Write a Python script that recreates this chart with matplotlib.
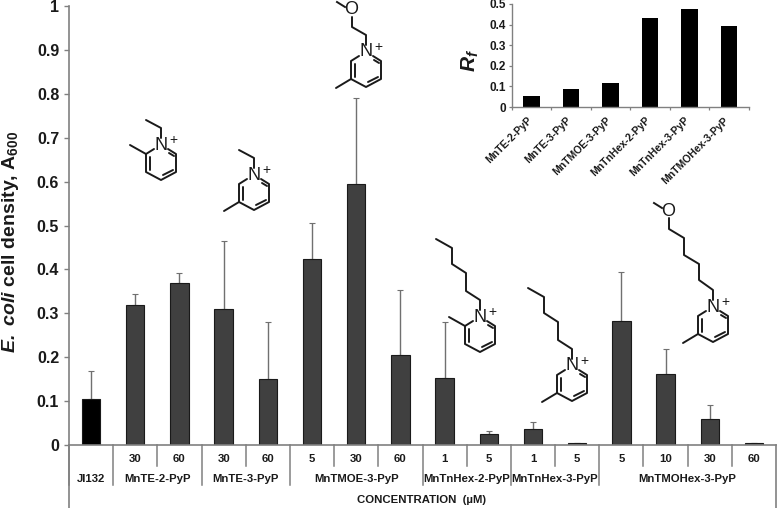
import matplotlib
matplotlib.use('Agg')
import matplotlib.pyplot as plt

plt.rcParams['font.family'] = ['Liberation Sans', 'DejaVu Sans']
plt.rcParams['mathtext.fontset'] = 'custom'
plt.rcParams['mathtext.rm'] = 'Liberation Sans:bold'
plt.rcParams['mathtext.bf'] = 'Liberation Sans:bold'
plt.rcParams['mathtext.it'] = 'Liberation Sans:italic:bold'
plt.rcParams['mathtext.bfit'] = 'Liberation Sans:italic:bold'

# Donnees du graphique principal
concentrations = ['', '30', '60', '30', '60', '5', '30', '60', '1', '5', '1', '5', '5', '10', '30', '60']
densite = [0.104, 0.318, 0.368, 0.31, 0.15, 0.424, 0.594, 0.205, 0.153, 0.024, 0.037, 0.004, 0.282, 0.162, 0.06, 0.005]
erreur = [0.064, 0.025, 0.024, 0.154, 0.13, 0.081, 0.196, 0.148, 0.127, 0.007, 0.015, 0, 0.112, 0.056, 0.032, 0]
couleurs = ['black'] + ['#404040'] * 15

groupes = ['JI132', 'MnTE-2-PyP', 'MnTE-3-PyP', 'MnTMOE-3-PyP', 'MnTnHex-2-PyP', 'MnTnHex-3-PyP', 'MnTMOHex-3-PyP']
tailles_groupes = [1, 2, 2, 3, 2, 2, 4]

# Donnees de l'encart
noms_rf = ['MnTE-2-PyP', 'MnTE-3-PyP', 'MnTMOE-3-PyP', 'MnTnHex-2-PyP', 'MnTnHex-3-PyP', 'MnTMOHex-3-PyP']
rf = [0.055, 0.085, 0.118, 0.43, 0.478, 0.392]

GRIS = '#808080'
ENCRE = '#1a1a1a'
W, H = 777, 508

fig = plt.figure(figsize=(W / 100, H / 100), dpi=100)

# Graphique principal
ax = fig.add_axes([69 / W, (H - 445) / H, 707 / W, 439 / H])
x = range(len(densite))
ax.bar(x, densite, width=0.415, color=couleurs, edgecolor=ENCRE, linewidth=0.8, zorder=2)
ax.errorbar(x, densite, yerr=[[0] * len(erreur), erreur], fmt='none', ecolor='#707070', elinewidth=1,
            capsize=2, capthick=0.8, zorder=1)
ax.set_xlim(-0.5, 15.5)
ax.set_ylim(0, 1)
ax.set_yticks([i / 10 for i in range(11)])
ax.set_yticklabels(['0', '0.1', '0.2', '0.3', '0.4', '0.5', '0.6', '0.7', '0.8', '0.9', '1'],
                   fontsize=11.5, fontweight='bold', color=ENCRE)
ax.set_xticks([])
ax.tick_params(axis='y', length=3.6, width=1, color=GRIS, pad=3.5)
for cote in ['top', 'right']:
    ax.spines[cote].set_visible(False)
for cote in ['left', 'bottom']:
    ax.spines[cote].set_color(GRIS)
    ax.spines[cote].set_linewidth(1.2)
ax.patch.set_alpha(0)
fig.text(11 / W, (H - 242) / H, r'$\mathbfit{E.\ coli}$ cell density, A$_{\mathbf{600}}$', rotation=90,
         ha='center', va='center', fontsize=14, fontweight='bold', color=ENCRE)

# Tableau sous l'axe : traits et libelles
trans = ax.get_xaxis_transform()
for i, c in enumerate(concentrations):
    ax.text(i, -0.032, c, transform=trans, ha='center', va='center', fontsize=8.2, fontweight='bold', color=ENCRE)
pos = 0
for nom, n in zip(groupes, tailles_groupes):
    ax.text(pos + n / 2 - 0.5, -0.078, nom, transform=trans, ha='center', va='center', fontsize=8.2,
            fontweight='bold', color=ENCRE)
    ax.plot([pos - 0.5, pos - 0.5], [0, -0.092], transform=trans, color=GRIS, lw=1.1, clip_on=False)
    for k in range(1, n):
        ax.plot([pos + k - 0.5] * 2, [0, -0.047], transform=trans, color=GRIS, lw=1.1, clip_on=False)
    pos += n
ax.plot([-0.5, -0.5], [0, -0.144], transform=trans, color=GRIS, lw=1.2, clip_on=False)
ax.plot([15.5, 15.5], [0, -0.144], transform=trans, color=GRIS, lw=1.2, clip_on=False)
ax.text(7.49, -0.125, 'CONCENTRATION  (µM)', transform=trans, ha='center', va='center', fontsize=8.2,
        fontweight='bold', color=ENCRE)

# Encart Rf
axi = fig.add_axes([512 / W, (H - 107) / H, 236.5 / W, 103 / H])
xi = range(len(rf))
axi.bar(xi, rf, width=0.42, color='black', zorder=2)
axi.set_xlim(-0.5, 5.5)
axi.set_ylim(0, 0.5)
axi.set_yticks([0, 0.1, 0.2, 0.3, 0.4, 0.5])
axi.set_yticklabels(['0', '0.1', '0.2', '0.3', '0.4', '0.5'], fontsize=8.5, fontweight='bold', color=ENCRE)
axi.set_xticks([i - 0.5 for i in range(7)])
axi.set_xticklabels([])
axi.tick_params(axis='both', length=2.5, width=0.9, color=GRIS, pad=2)
for cote in ['top', 'right']:
    axi.spines[cote].set_visible(False)
for cote in ['left', 'bottom']:
    axi.spines[cote].set_color(GRIS)
    axi.spines[cote].set_linewidth(1)
axi.patch.set_alpha(0)
for i, nom in enumerate(noms_rf):
    axi.annotate(nom, (i, 0), xytext=(-3.5, -6), textcoords='offset points', rotation=45, ha='right', va='top',
                 rotation_mode='anchor', fontsize=7.5, fontweight='bold', color=ENCRE)
fig.text(470 / W, (H - 60) / H, r'$\mathbfit{R}_{\mathbfit{f}}$', rotation=90, ha='center', va='center',
         fontsize=15, color=ENCRE)

# Calque en pixels pour les formules chimiques
calque = fig.add_axes([0, 0, 1, 1])
calque.set_xlim(0, W)
calque.set_ylim(H, 0)
calque.axis('off')

CYCLE = [[(7, 4), (15, 9), (15, 27), (0, 35), (-15, 27), (-15, 9), (-7, 4)]]
INTERIEUR = [[(-11, 12), (-11, 25)], [(2, 30), (12, 25)], [(8, 8), (13, 11)]]


def molecule(nx, ny, chaine, methyle, oxygene=None):
    """Dessine un cycle pyridinium autour de l'azote (nx, ny) avec sa chaine."""
    traits = CYCLE + INTERIEUR + [chaine, methyle]
    for t in traits:
        calque.plot([nx + p[0] for p in t], [ny + p[1] for p in t], color=ENCRE, lw=1.4,
                    solid_capstyle='round', solid_joinstyle='round')
    calque.text(nx, ny, 'N', ha='center', va='center', fontsize=13, color=ENCRE)
    calque.text(nx + 12, ny - 5, '+', ha='center', va='center', fontsize=10, color=ENCRE)
    if oxygene:
        calque.text(nx + oxygene[0], ny + oxygene[1], 'O', ha='center', va='center', fontsize=13, color=ENCRE)


ETHYLE = [(0, -7), (0, -17), (-15, -25)]
METHYLE_2 = [(-15, 9), (-31, 0)]
METHYLE_3 = [(-15, 27), (-30, 36)]
HEXYLE = [(0, -7), (0, -17), (-14, -26), (-14, -44), (-28, -53), (-28, -69), (-44, -78)]

molecule(161, 145, ETHYLE, METHYLE_2)
molecule(254, 175, ETHYLE, METHYLE_3)
molecule(366, 52, [(0, -7), (0, -17), (-14, -25), (-14, -35)], METHYLE_3, oxygene=(-15, -42))
calque.plot([366 - 21, 366 - 29], [52 - 45, 52 - 50], color=ENCRE, lw=1.4)
molecule(480, 317, HEXYLE, METHYLE_2)
molecule(572, 366, HEXYLE, METHYLE_3)
molecule(713, 307, [(0, -7), (0, -17), (-14, -27), (-14, -43), (-29, -52), (-29, -69), (-44, -78), (-44, -89)],
         METHYLE_3, oxygene=(-45, -96))
calque.plot([713 - 51, 713 - 59], [307 - 99, 307 - 104], color=ENCRE, lw=1.4)

fig.savefig('out.png', dpi=100)
